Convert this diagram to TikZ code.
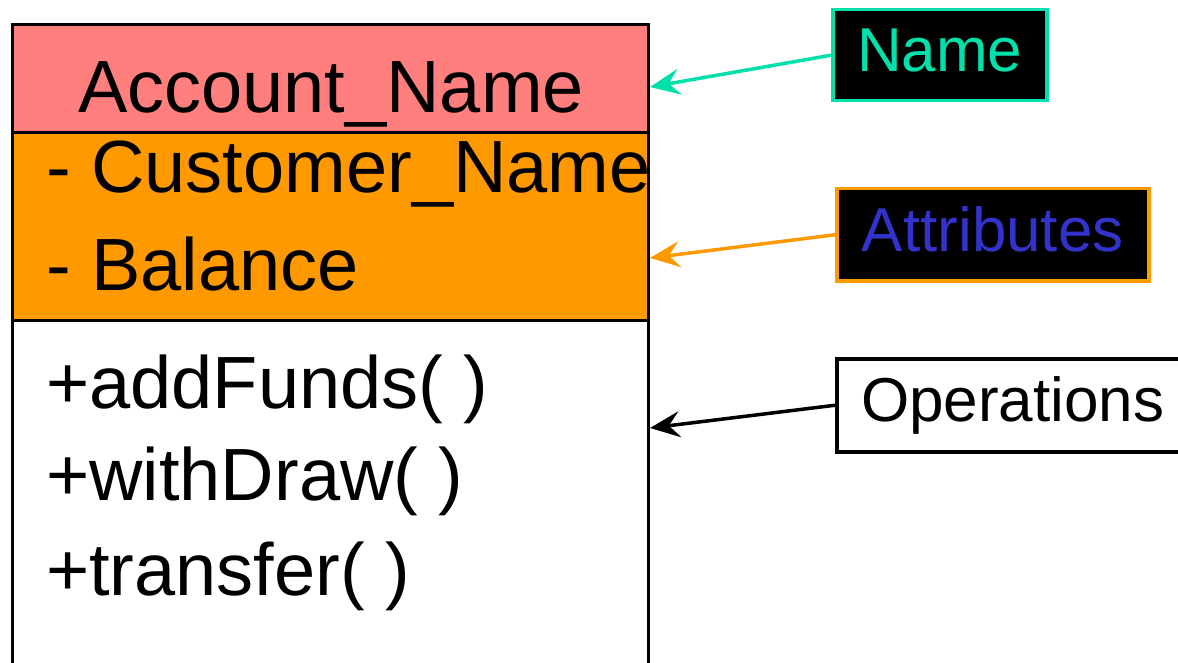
\documentclass[tikz,border=0pt]{standalone}
\usepackage{fontspec}
\setmainfont{Liberation Sans}
\usetikzlibrary{arrows.meta}
\definecolor{namepink}{RGB}{255,127,127}
\definecolor{attrorange}{RGB}{255,153,0}
\definecolor{nameteal}{RGB}{0,224,170}
\definecolor{attrblue}{RGB}{51,51,204}
\tikzset{
  member/.style={anchor=base west,inner sep=0pt,font=\fontsize{74}{80}\selectfont},
  tag/.style={draw,line width=3.5pt,anchor=north west,inner sep=0pt,text height=45pt,text depth=12pt,font=\fontsize{62}{70}\selectfont},
  pointer/.style={line width=3.5pt,-{Stealth[length=30pt,width=26pt,inset=11pt]}}
}
\begin{document}
\begin{tikzpicture}[x=1pt,y=-1pt]
\useasboundingbox (0,0) rectangle (1178,663);
\clip (0,0) rectangle (1178,663);

\fill[namepink] (12,25) rectangle (648,133);
\fill[attrorange] (12,133) rectangle (648,320);
\draw[line width=3pt] (12,670) -- (12,25) -- (648,25) -- (648,670);
\draw[line width=3pt] (12,133) -- (648,133);
\draw[line width=3pt] (12,320) -- (648,320);

\node[member,anchor=base] (clsname) at (331,113) {Account\_Name};
\node[member] (attrcust) at (46,193) {- Customer\_Name};
\node[member] (attrbal) at (46,290) {- Balance};
\node[member] (opadd) at (46,408) {+addFunds(\ )};
\node[member] (opwith) at (46,500) {+withDraw(\ )};
\node[member] (optrans) at (46,595) {+transfer(\ )};

\coordinate (nametip) at (650,87);
\coordinate (attrtip) at (650,258);
\coordinate (optip) at (650,428);

\node[tag,draw=nameteal,fill=black,text=nameteal,minimum width=214pt,minimum height=91pt] (namelbl) at (831,8) {Name};
\node[tag,draw=attrorange,fill=black,text=attrblue,minimum width=312pt,minimum height=92pt] (attrlbl) at (835,187) {Attributes};
\node[tag,draw=black,fill=white,minimum width=352pt,minimum height=93pt] (oplbl) at (835,357) {Operations};

\draw[pointer,nameteal] (namelbl.west) -- (nametip);
\draw[pointer,attrorange] (attrlbl.west) -- (attrtip);
\draw[pointer,black] (oplbl.west) -- (optip);
\end{tikzpicture}
\end{document}
